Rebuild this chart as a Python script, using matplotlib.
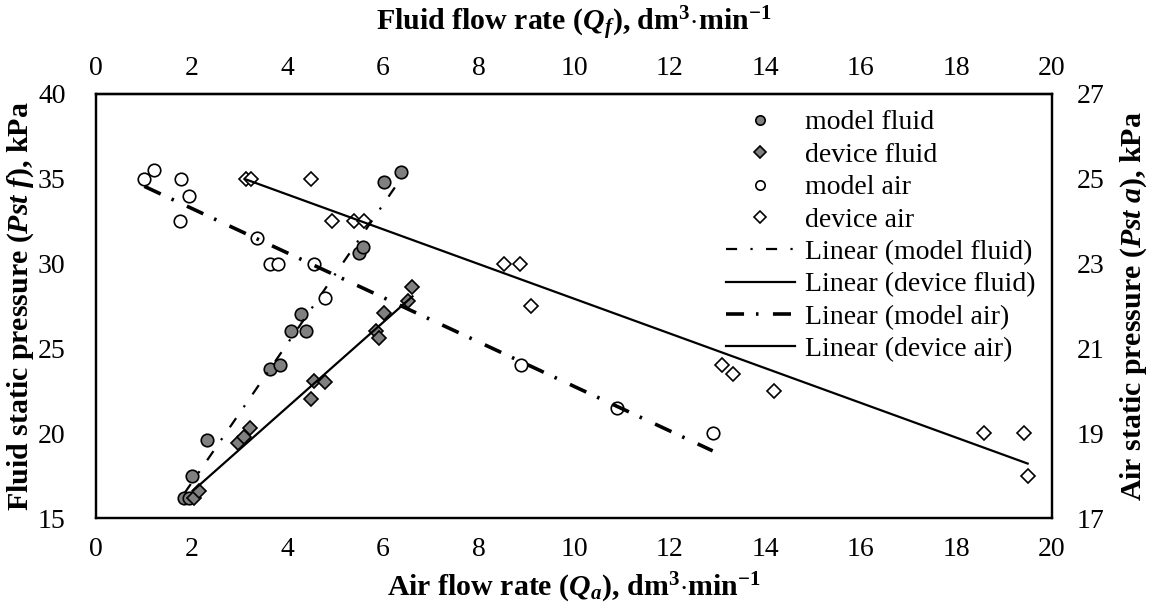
import matplotlib
matplotlib.use("Agg")
import matplotlib.pyplot as plt
import numpy as np

plt.rcParams["font.family"] = ["Liberation Serif", "DejaVu Serif"]
plt.rcParams["mathtext.fontset"] = "custom"
plt.rcParams["mathtext.rm"] = "Liberation Serif"
plt.rcParams["mathtext.it"] = "Liberation Serif:italic"
plt.rcParams["mathtext.bf"] = "Liberation Serif:bold"
plt.rcParams["mathtext.bfit"] = "Liberation Serif:italic:bold"

# fluid side: top x axis (Qf) vs left y axis (Pst f)
model_fluid_q = [1.85, 1.95, 2.01, 2.33, 3.64, 3.85, 4.08, 4.39, 4.29, 5.51, 5.58, 6.03, 6.39]
model_fluid_p = [16.2, 16.2, 17.5, 19.6, 23.8, 24.0, 26.0, 26.0, 27.0, 30.6, 31.0, 34.8, 35.4]
device_fluid_q = [2.04, 2.16, 2.96, 3.10, 3.22, 4.49, 4.55, 4.78, 5.86, 5.91, 6.03, 6.53, 6.62]
device_fluid_p = [16.2, 16.6, 19.4, 19.8, 20.3, 22.0, 23.1, 23.0, 26.0, 25.6, 27.1, 27.8, 28.6]

# air side: bottom x axis (Qa) vs right y axis (Pst a)
model_air_q = [1.01, 1.21, 1.78, 1.95, 1.76, 3.36, 3.64, 3.81, 4.55, 4.80, 8.90, 10.89, 12.90]
model_air_p = [25.0, 25.2, 25.0, 24.6, 24.0, 23.6, 23.0, 23.0, 23.0, 22.2, 20.6, 19.6, 19.0]
device_air_q = [3.13, 3.24, 4.49, 4.94, 5.40, 5.61, 8.54, 8.86, 9.11, 13.10, 13.33, 14.19, 18.58, 19.42, 19.49]
device_air_p = [25.0, 25.0, 25.0, 24.0, 24.0, 24.0, 23.0, 23.0, 22.0, 20.6, 20.4, 20.0, 19.0, 19.0, 18.0]

x_ticks = np.arange(0, 21, 2)
left_ticks = np.arange(15, 41, 5)
right_ticks = np.arange(17, 28, 2)


def trend(ax, x, y, **kw):
    x = np.asarray(x)
    k, b = np.polyfit(x, y, 1)
    xs = np.array([x.min(), x.max()])
    return ax.plot(xs, k * xs + b, color="black", **kw)[0]


def main():
    fig = plt.figure(figsize=(11.49, 6.08), dpi=100)
    ax = fig.add_axes([0.0836, 0.148, 0.8320, 0.6974])
    ax_r = ax.twinx()

    fs = 20
    lfs = 21.5
    mk = dict(linestyle="none", markeredgecolor="black", markeredgewidth=1.2)

    h1 = ax.plot(model_fluid_q, model_fluid_p, marker="o", markersize=9,
                 markerfacecolor="#808080", label="model fluid", **mk)[0]
    h2 = ax.plot(device_fluid_q, device_fluid_p, marker="D", markersize=7.5,
                 markerfacecolor="#808080", label="device fluid", **mk)[0]
    h3 = ax_r.plot(model_air_q, model_air_p, marker="o", markersize=9,
                   markerfacecolor="white", label="model air", **mk)[0]
    h4 = ax_r.plot(device_air_q, device_air_p, marker="D", markersize=7.5,
                   markerfacecolor="white", label="device air", **mk)[0]

    h5 = trend(ax, model_fluid_q, model_fluid_p, lw=1.6, dashes=(5, 6, 1, 6),
               label="Linear (model fluid)")
    h6 = trend(ax, device_fluid_q, device_fluid_p, lw=1.6, label="Linear (device fluid)")
    h7 = trend(ax_r, model_air_q, model_air_p, lw=2.6, dashes=(5, 3.3, 0.7, 4),
               label="Linear (model air)")
    h8 = trend(ax_r, device_air_q, device_air_p, lw=1.6, label="Linear (device air)")

    ax.set_xlim(0, 20)
    ax.set_ylim(15, 40)
    ax_r.set_ylim(17, 27)
    ax.set_xticks(x_ticks)
    ax.set_yticks(left_ticks)
    ax_r.set_yticks(right_ticks)

    top = ax.secondary_xaxis("top")
    top.set_xticks(x_ticks)

    ax.tick_params(axis="x", length=0, labelsize=fs, pad=14)
    ax.tick_params(axis="y", length=0, labelsize=fs, pad=22)
    ax_r.tick_params(axis="y", length=0, labelsize=fs, pad=18)
    top.tick_params(length=0, labelsize=fs, pad=9)
    for s in ax_r.spines.values():
        s.set_linewidth(1.6)
    for s in ax.spines.values():
        s.set_linewidth(1.6)
    top.spines["top"].set_linewidth(1.6)

    ax.set_xlabel(r"Air flow rate ($\mathbfit{Q}_{\mathbfit{a}}$), dm$^{\mathbf{3}}$$\mathbf{\cdot}$min$^{\mathbf{-1}}$",
                  fontsize=lfs, fontweight="bold", labelpad=6)
    top.set_xlabel(r"Fluid flow rate ($\mathbfit{Q}_{\mathbfit{f}}$), dm$^{\mathbf{3}}$$\mathbf{\cdot}$min$^{\mathbf{-1}}$",
                   fontsize=lfs, fontweight="bold", labelpad=18)
    ax.set_ylabel(r"Fluid static pressure ($\mathbfit{Pst\ f}$), kPa",
                  fontsize=lfs, fontweight="bold", labelpad=1)
    ax_r.set_ylabel(r"Air static pressure ($\mathbfit{Pst\ a}$), kPa",
                    fontsize=lfs, fontweight="bold", labelpad=10)

    ax_r.legend(handles=[h1, h2, h3, h4, h5, h6, h7, h8], loc="upper right",
                bbox_to_anchor=(0.997, 0.995), frameon=False, fontsize=fs,
                markerscale=0.75, handlelength=2.5, handletextpad=0.35,
                labelspacing=0.25, borderaxespad=0.1)

    fig.savefig("out.png", dpi=100)


if __name__ == "__main__":
    main()
